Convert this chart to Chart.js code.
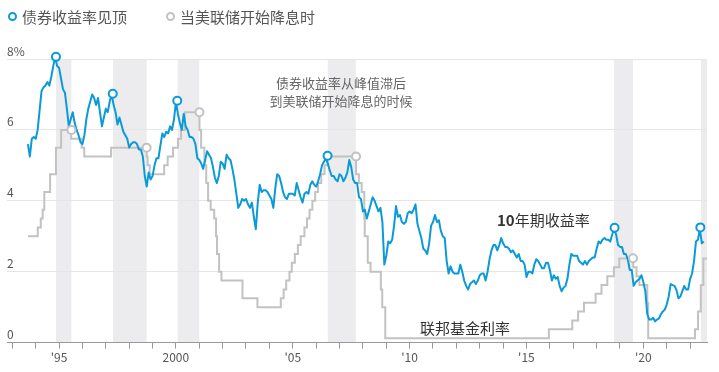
<!DOCTYPE html>
<html>
<head>
<meta charset="utf-8">
<script src="https://cdn.jsdelivr.net/npm/chart.js@4/dist/chart.umd.min.js"></script>
<style>
html, body { margin: 0; padding: 0; background: #fff; }
#wrap { position: relative; width: 719px; height: 372px; font-family: "Noto Sans CJK SC", sans-serif; }
#legend span { position: absolute; font-size: 15px; line-height: 20px; color: #555; white-space: nowrap; }
#legend .dot { width: 5px; height: 5px; border: 2px solid; border-radius: 50%; background: #fff; }
</style>
</head>
<body>
<div id="wrap">
  <canvas id="yieldChart" width="719" height="372"></canvas>
  <div id="legend">
    <span class="dot" style="left:8px;top:12px;border-color:#0b9ad8"></span>
    <span style="left:22px;top:7px">债券收益率见顶</span>
    <span class="dot" style="left:166px;top:12px;border-color:#c2c2c2"></span>
    <span style="left:180px;top:7px">当美联储开始降息时</span>
  </div>
</div>
<script>
// 10年期收益率, monthly from Sep 1993
const yieldStart = 1993.67;
const yield10y = [
  5.6, 5.25, 5.75, 5.8,
  5.75, 6.0, 6.55, 7.1, 7.2, 7.25, 7.35, 7.25, 7.5, 7.8, 8.05, 7.8,
  7.75, 7.45, 7.15, 7.05, 6.6, 6.1, 6.3, 6.5, 6.2, 6.0, 5.85, 5.65,
  5.6, 5.85, 6.3, 6.6, 6.8, 7.0, 6.9, 6.7, 6.9, 6.5, 6.1, 6.35,
  6.6, 6.5, 6.8, 7.0, 6.7, 6.5, 6.15, 6.35, 6.15, 5.95, 5.85, 5.75,
  5.5, 5.6, 5.65, 5.65, 5.6, 5.45, 5.45, 5.25, 4.7, 4.4, 4.8, 4.6,
  4.7, 5.0, 5.2, 5.2, 5.55, 5.9, 5.8, 5.95, 5.9, 6.1, 6.0, 6.3,
  6.8, 6.45, 6.2, 6.0, 6.45, 6.1, 6.0, 5.8, 5.8, 5.75, 5.6, 5.2,
  5.15, 5.05, 4.9, 5.15, 5.4, 5.3, 5.2, 4.95, 4.65, 4.5, 4.7, 5.1,
  5.05, 4.9, 5.3, 5.2, 5.15, 4.9, 4.6, 4.2, 3.8, 3.9, 4.05, 4.0,
  4.05, 3.9, 3.8, 3.95, 3.55, 3.2, 3.95, 4.45, 4.25, 4.3, 4.3, 4.25,
  4.15, 4.05, 3.8, 4.35, 4.75, 4.7, 4.5, 4.25, 4.1, 4.05, 4.2, 4.2,
  4.2, 4.15, 4.5, 4.3, 4.1, 3.95, 4.2, 4.25, 4.2, 4.45, 4.55, 4.45,
  4.4, 4.55, 4.75, 5.0, 5.1, 5.2, 5.05, 4.85, 4.7, 4.7, 4.6, 4.55,
  4.75, 4.7, 4.55, 4.65, 4.8, 5.15, 4.95, 4.6, 4.5, 4.5, 4.1, 4.05,
  3.7, 3.75, 3.5, 3.7, 3.9, 4.1, 4.0, 3.85, 3.7, 3.8, 3.4, 2.2,
  2.45, 2.85, 2.8, 2.9, 3.3, 3.85, 3.55, 3.6, 3.4, 3.35, 3.4, 3.65,
  3.7, 3.65, 3.75, 3.9, 3.35, 3.15, 2.95, 2.65, 2.6, 2.5, 2.8, 3.3,
  3.4, 3.6, 3.4, 3.45, 3.15, 3.0, 2.95, 2.3, 1.95, 2.15, 2.0, 1.95,
  1.95, 1.95, 2.2, 2.0, 1.75, 1.6, 1.5, 1.65, 1.7, 1.75, 1.65, 1.75,
  1.9, 1.95, 1.95, 1.75, 2.0, 2.35, 2.6, 2.75, 2.75, 2.6, 2.75, 2.95,
  2.8, 2.7, 2.7, 2.65, 2.55, 2.6, 2.5, 2.4, 2.5, 2.3, 2.3, 2.2,
  1.85, 2.0, 2.0, 1.95, 2.2, 2.35, 2.3, 2.2, 2.1, 2.1, 2.25, 2.25,
  2.05, 1.75, 1.9, 1.8, 1.85, 1.6, 1.45, 1.55, 1.6, 1.8, 2.2, 2.5,
  2.45, 2.45, 2.45, 2.3, 2.25, 2.2, 2.3, 2.2, 2.3, 2.35, 2.4, 2.4,
  2.65, 2.85, 2.8, 2.9, 2.95, 2.9, 2.9, 2.85, 3.05, 3.2, 3.05, 2.75,
  2.7, 2.7, 2.5, 2.5, 2.35, 2.05, 2.05, 1.6, 1.7, 1.75, 1.8, 1.9,
  1.7, 1.45, 0.8, 0.65, 0.65, 0.7, 0.6, 0.65, 0.68, 0.8, 0.88, 0.93,
  1.08, 1.3, 1.65, 1.62, 1.6, 1.48, 1.25, 1.3, 1.45, 1.6, 1.5, 1.5,
  1.8, 1.95, 2.3, 2.85, 2.9, 3.2, 2.8, 2.85
];

// 联邦基金利率: dates of changes and the new rate
const fedDates = [
  1993.67, 1994.09, 1994.22, 1994.30, 1994.37, 1994.62, 1994.87, 1995.09, 1995.52, 1995.97,
  1996.08, 1997.23, 1998.75, 1998.79, 1998.88, 1999.50, 1999.65, 1999.88, 2000.09, 2000.22,
  2000.38, 2001.01, 2001.08, 2001.22, 2001.30, 2001.38, 2001.49, 2001.64, 2001.72, 2001.76,
  2001.85, 2001.95, 2002.85, 2003.49, 2004.49, 2004.61, 2004.72, 2004.86, 2004.96, 2005.09,
  2005.22, 2005.34, 2005.50, 2005.61, 2005.72, 2005.84, 2005.96, 2006.08, 2006.22, 2006.36,
  2006.49, 2007.71, 2007.83, 2007.95, 2008.06, 2008.08, 2008.21, 2008.33, 2008.77, 2008.83,
  2008.96, 2015.96, 2016.96, 2017.21, 2017.46, 2017.96, 2018.21, 2018.46, 2018.74, 2018.97,
  2019.57, 2019.71, 2019.83, 2020.17, 2020.21, 2022.21, 2022.34, 2022.46, 2022.57, 2022.73
];
const fedRates = [
  3.0, 3.25, 3.5, 3.75, 4.25, 4.75, 5.5, 6.0, 5.75, 5.5,
  5.25, 5.5, 5.25, 5.0, 4.75, 5.0, 5.25, 5.5, 5.75, 6.0,
  6.5, 6.0, 5.5, 5.0, 4.5, 4.0, 3.75, 3.5, 3.0, 2.5,
  2.0, 1.75, 1.25, 1.0, 1.25, 1.5, 1.75, 2.0, 2.25, 2.5,
  2.75, 3.0, 3.25, 3.5, 3.75, 4.0, 4.25, 4.5, 4.75, 5.0,
  5.25, 4.75, 4.5, 4.25, 3.5, 3.0, 2.25, 2.0, 1.5, 1.0,
  0.125, 0.375, 0.625, 0.875, 1.125, 1.375, 1.625, 1.875, 2.125, 2.375,
  2.125, 1.875, 1.625, 1.125, 0.125, 0.375, 0.875, 1.625, 2.375, 2.375
];

// 债券收益率见顶
const peakDates = [1994.87, 1997.30, 2000.06, 2006.49, 2018.77, 2022.44];
const peakValues = [8.06, 7.02, 6.82, 5.27, 3.24, 3.25];

// 当美联储开始降息时
const cutDates = [1995.53, 1998.75, 2001.01, 2007.71, 2019.56];
const cutValues = [6.0, 5.5, 6.5, 5.25, 2.38];

// shaded spans: from the yield peak to the first cut
const bandStarts = [1994.87, 1997.31, 2000.08, 2006.50, 2018.75, 2022.47];
const bandEnds = [1995.53, 1998.75, 2001.00, 2007.70, 2019.56, 2022.73];

const xTickYears = [1995, 2000, 2005, 2010, 2015, 2020];
const xTickLabels = ["'95", "2000", "'05", "'10", "'15", "'20"];
const yTickLabels = ["0", "2", "4", "6", "8%"];

const blue = "#0b9ad8";
const gray = "#c2c2c2";
const fontFamily = '"Noto Sans CJK SC", sans-serif';

const notes = [
  { text: "债券收益率从峰值滞后", x: 2007.07, y: 7.33, size: 13, color: "#666", align: "center" },
  { text: "到美联储开始降息的时候", x: 2007.07, y: 6.81, size: 13, color: "#666", align: "center" },
  { text: "联邦基金利率", x: 2010.45, y: 0.40, size: 15, color: "#333", align: "left" },
  { text: "年期收益率", bold: "10", x: 2013.74, y: 3.44, size: 15, color: "#333", align: "left" }
];

const bandPlugin = {
  id: "bands",
  beforeDraw(chart) {
    const ctx = chart.ctx, area = chart.chartArea, xs = chart.scales.x;
    ctx.save();
    ctx.fillStyle = "#ececee";
    for (let i = 0; i < bandStarts.length; i++) {
      const x0 = xs.getPixelForValue(bandStarts[i]);
      const x1 = Math.min(xs.getPixelForValue(bandEnds[i]), area.right);
      ctx.fillRect(x0, area.top, x1 - x0, area.bottom - area.top);
    }
    ctx.restore();
  }
};

const notePlugin = {
  id: "notes",
  afterDatasetsDraw(chart) {
    const ctx = chart.ctx, xs = chart.scales.x, ys = chart.scales.y;
    ctx.save();
    ctx.textBaseline = "middle";
    notes.forEach(n => {
      let px = xs.getPixelForValue(n.x);
      const py = ys.getPixelForValue(n.y);
      ctx.fillStyle = n.color;
      ctx.textAlign = n.align;
      if (n.bold) {
        ctx.font = "bold " + n.size + "px " + fontFamily;
        ctx.fillText(n.bold, px, py);
        px += ctx.measureText(n.bold).width;
      }
      ctx.font = n.size + "px " + fontFamily;
      ctx.fillText(n.text, px, py);
    });
    ctx.restore();
  }
};

function drawChart() {
  "use strict";
  let ctx = document.getElementById("yieldChart");
  new Chart(ctx, {
    type: "line",
    data: {
      datasets: [{
        label: "债券收益率见顶",
        data: peakDates.map((d, i) => ({ x: d, y: peakValues[i] })),
        showLine: false,
        pointRadius: 4,
        pointBorderWidth: 2,
        pointBorderColor: blue,
        pointBackgroundColor: "#fff",
        clip: false
      }, {
        label: "当美联储开始降息时",
        data: cutDates.map((d, i) => ({ x: d, y: cutValues[i] })),
        showLine: false,
        pointRadius: 4,
        pointBorderWidth: 2,
        pointBorderColor: gray,
        pointBackgroundColor: "#fff",
        clip: false
      }, {
        label: "10年期收益率",
        data: yield10y.map((v, i) => ({ x: yieldStart + i / 12, y: v })),
        borderColor: blue,
        borderWidth: 2,
        pointRadius: 0,
        borderJoinStyle: "round",
        clip: false
      }, {
        label: "联邦基金利率",
        data: fedDates.map((d, i) => ({ x: d, y: fedRates[i] })),
        stepped: true,
        borderColor: gray,
        borderWidth: 2,
        pointRadius: 0
      }]
    },
    options: {
      responsive: false,
      animation: false,
      layout: { padding: { top: 59, left: 7, right: 12, bottom: 5 } },
      plugins: { legend: { display: false }, tooltip: { enabled: false } },
      scales: {
        x: {
          type: "linear",
          min: 1992.775,
          max: 2022.725,
          ticks: {
            stepSize: 1,
            autoSkip: false,
            includeBounds: false,
            maxRotation: 0,
            padding: 2,
            color: "#555",
            font: { size: 12, family: fontFamily },
            callback: v => {
              const i = xTickYears.indexOf(v);
              return i < 0 ? "" : xTickLabels[i];
            }
          },
          grid: { drawOnChartArea: false, drawTicks: true, tickLength: 6, color: "#999" },
          border: { display: true, color: "#999" }
        },
        y: {
          min: 0,
          max: 8,
          ticks: {
            stepSize: 2,
            mirror: true,
            padding: 0,
            labelOffset: -8,
            color: "#555",
            font: { size: 12, family: fontFamily },
            callback: v => yTickLabels[v / 2]
          },
          grid: { color: "#e6e6e6", drawTicks: false },
          border: { display: false }
        }
      }
    },
    plugins: [bandPlugin, notePlugin]
  });
}
drawChart();
</script>
</body>
</html>
